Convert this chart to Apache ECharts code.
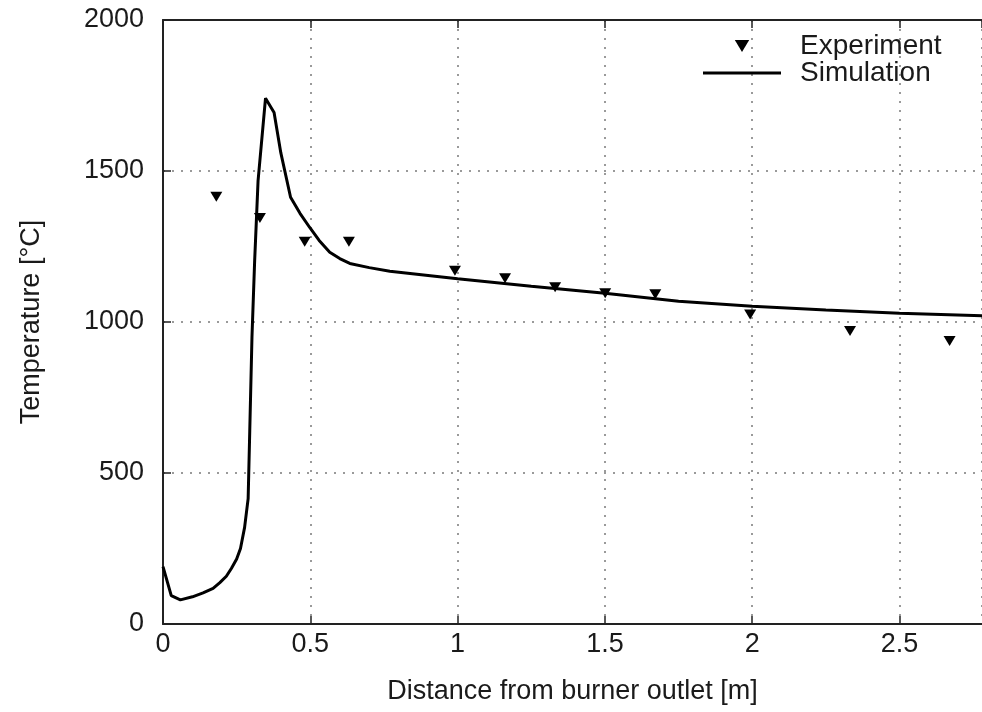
<!DOCTYPE html>
<html>
<head>
<meta charset="utf-8">
<script src="https://cdn.jsdelivr.net/npm/echarts@6/dist/echarts.min.js"></script>
<style>html,body{margin:0;padding:0;background:#fff}#c{width:982px;height:712px}</style>
</head>
<body>
<div id="c"></div>
<script>
const xLabel = 'Distance from burner outlet [m]';
const yLabel = 'Temperature [°C]';
const seriesNames = ['Experiment', 'Simulation'];

const experimentX = [0.181, 0.329, 0.481, 0.631, 0.991, 1.161, 1.331, 1.501, 1.671, 1.993, 2.332, 2.67];
const experimentY = [1415, 1344, 1266, 1266, 1170, 1145, 1115, 1095, 1092, 1025, 970, 937];

const simulationX = [0, 0.028, 0.059, 0.10, 0.136, 0.17, 0.193, 0.215, 0.232, 0.25, 0.263, 0.277, 0.289, 0.2945, 0.302, 0.311, 0.3227, 0.348, 0.377, 0.40, 0.433, 0.465, 0.498, 0.53, 0.566, 0.6, 0.634, 0.7, 0.77, 0.9, 1.0, 1.25, 1.5, 1.75, 2.0, 2.25, 2.5, 2.78];
const simulationY = [190, 94, 80, 90, 103, 118, 137, 158, 184, 215, 250, 320, 415, 640, 950, 1200, 1468, 1741, 1694, 1560, 1413, 1360, 1313, 1270, 1231, 1210, 1194, 1180, 1168, 1154, 1143, 1118, 1095, 1069, 1052, 1040, 1029, 1021];

const xMin = 0, xMax = 2.78, xStep = 0.5;
const yMin = 0, yMax = 2000, yStep = 500;

const tri = 'path://M0,0 L12,0 L6,10 Z';
const bar = 'path://M0,0 L78,0 L78,3 L0,3 Z';
const FONT = 'Liberation Sans';
const TXT = '#1a1a1a';

const chart = echarts.init(document.getElementById('c'), null, {renderer: 'canvas'});
const axisCommon = {
  min: xMin, max: xMax, interval: xStep,
  axisLine: {show: true, lineStyle: {color: '#222', width: 2}},
  axisTick: {show: true, inside: true, length: 8, lineStyle: {color: '#222', width: 1.5}},
};
chart.setOption({
  animation: false,
  backgroundColor: '#fff',
  grid: {left: 163, top: 20, right: 0, bottom: 88, containLabel: false, outerBoundsMode: 'none'},
  legend: {
    orient: 'vertical', left: 698, top: 27,
    itemWidth: 78, itemHeight: 12, itemGap: -1,
    textStyle: {fontFamily: FONT, fontSize: 28, color: TXT, lineHeight: 24, padding: [0, 0, 0, 14]},
    data: [
      {name: seriesNames[0], icon: tri, itemStyle: {color: '#000', opacity: 1}},
      {name: seriesNames[1], icon: bar, itemStyle: {color: '#000', opacity: 1}}
    ]
  },
  xAxis: [
    Object.assign({}, axisCommon, {
      type: 'value', position: 'bottom',
      name: xLabel, nameLocation: 'middle', nameGap: 54,
      nameTextStyle: {fontFamily: FONT, fontSize: 27, color: TXT},
      axisLabel: {fontFamily: FONT, fontSize: 27, color: TXT, margin: 7, showMaxLabel: false,
        formatter: v => String(+v.toFixed(2))},
      splitLine: {show: true, lineStyle: {color: '#9a9a9a', width: 2, type: [2, 7]}}
    }),
    Object.assign({}, axisCommon, {
      type: 'value', position: 'top',
      axisLabel: {show: false}, splitLine: {show: false}
    })
  ],
  yAxis: {
    type: 'value', min: yMin, max: yMax, interval: yStep,
    name: yLabel, nameLocation: 'middle', nameGap: 118,
    nameTextStyle: {fontFamily: FONT, fontSize: 27, color: TXT},
    axisLine: {show: true, lineStyle: {color: '#222', width: 2}},
    axisTick: {show: true, inside: true, length: 8, lineStyle: {color: '#222', width: 1.5}},
    axisLabel: {fontFamily: FONT, fontSize: 27, color: TXT, margin: 19, formatter: v => String(v)},
    splitLine: {show: true, lineStyle: {color: '#9a9a9a', width: 2, type: [2, 7]}}
  },
  series: [
    {
      name: seriesNames[0], type: 'scatter', xAxisIndex: 0,
      symbol: tri, symbolSize: [12, 10],
      itemStyle: {color: '#000', opacity: 1},
      data: experimentX.map((x, i) => [x, experimentY[i]]),
      z: 3
    },
    {
      name: seriesNames[1], type: 'line', xAxisIndex: 0,
      showSymbol: false, symbol: 'none',
      lineStyle: {color: '#000', width: 3},
      itemStyle: {color: '#000'},
      data: simulationX.map((x, i) => [x, simulationY[i]]),
      z: 2
    }
  ]
});
</script>
</body>
</html>
